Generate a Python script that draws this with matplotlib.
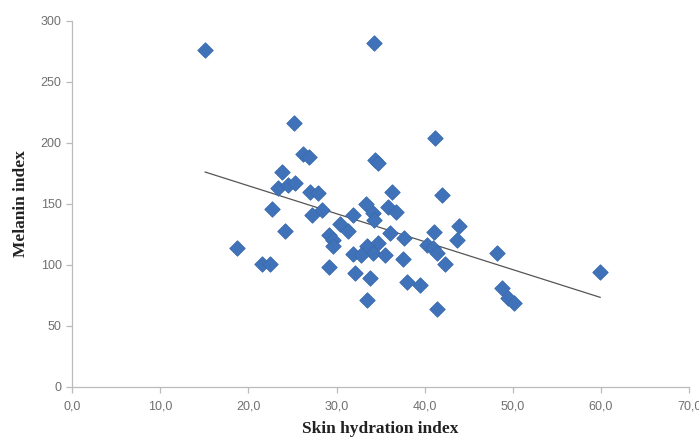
import numpy as np
import matplotlib
matplotlib.use("Agg")
import matplotlib.pyplot as plt
from matplotlib.ticker import FuncFormatter, MultipleLocator

# skin hydration index (x) and melanin index (y)
hydration = [15.1, 34.3, 25.2, 41.2, 34.4, 34.7, 26.2, 26.9, 23.8, 23.4,
             24.5, 25.3, 36.3, 27.0, 27.9, 42.0, 33.3, 22.7, 35.8, 36.7,
             27.2, 28.4, 31.9, 34.1, 34.2, 30.4, 43.9, 31.3, 24.2, 41.0,
             36.1, 29.1, 29.6, 37.6, 43.7, 34.7, 33.5, 40.3, 29.6, 18.7,
             40.9, 34.1, 41.4, 48.2, 31.9, 35.5, 37.5, 42.3, 21.6, 22.5,
             29.1, 59.9, 32.1, 33.8, 38.0, 39.5, 48.8, 49.5, 33.5, 50.1,
             41.4, 32.8]
melanin = [276, 282, 216, 204, 186, 183, 191, 188, 176, 163,
           165, 167, 160, 160, 159, 157, 150, 146, 147, 143,
           141, 145, 141, 142, 137, 133, 132, 128, 128, 127,
           126, 124, 120, 122, 120, 118, 115, 116, 115, 114,
           114, 110, 110, 110, 109, 108, 105, 101, 101, 101,
           98, 94, 93, 89, 86, 83, 81, 73, 71, 69,
           64, 108]

fig = plt.figure(figsize=(6.99, 4.40), dpi=100)
ax = fig.add_axes([0.103, 0.121, 0.883, 0.832])

ax.scatter(hydration, melanin, marker='D', s=62, color='#3f72b8',
           edgecolors='#3a6aae', linewidths=0.6, zorder=3)

# linear trend line over the data range
k, b = np.polyfit(hydration, melanin, 1)
xs = np.array([min(hydration), max(hydration)])
ax.plot(xs, k * xs + b, color='#555555', lw=0.9, zorder=2)

ax.set_xlim(0, 70)
ax.set_ylim(0, 300)
ax.xaxis.set_major_locator(MultipleLocator(10))
ax.yaxis.set_major_locator(MultipleLocator(50))
ax.xaxis.set_major_formatter(FuncFormatter(lambda v, p: ('%.1f' % v).replace('.', ',')))

for s in ['top', 'right']:
    ax.spines[s].set_visible(False)
for s in ['left', 'bottom']:
    ax.spines[s].set_color('#bbbbbb')
    ax.spines[s].set_linewidth(0.9)

ax.tick_params(axis='both', colors='#bbbbbb', length=4, width=0.9,
               labelcolor='#707070', labelsize=9)
ax.tick_params(axis='x', pad=6)
for lab in ax.get_xticklabels() + ax.get_yticklabels():
    lab.set_family('Liberation Sans')

ax.set_xlabel('Skin hydration index', family='Liberation Serif',
              fontweight='bold', fontsize=12.5, color='#222222', labelpad=6)
ax.set_ylabel('Melanin index', family='Liberation Serif',
              fontweight='bold', fontsize=12.5, color='#222222', labelpad=8)

plt.savefig('out.png', dpi=100)
